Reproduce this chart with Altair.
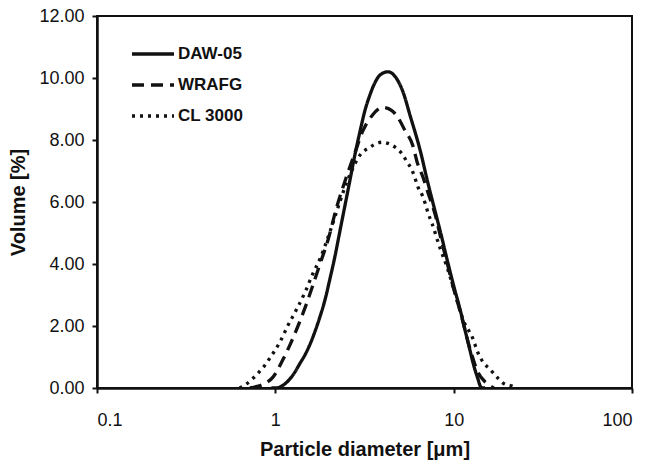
import altair as alt
import pandas as pd

series_names = ["DAW-05", "WRAFG", "CL 3000"]

daw_x = [0.95, 1.0, 1.06, 1.13, 1.21, 1.29, 1.37, 1.47, 1.57, 1.67, 1.78, 1.9, 2.02, 2.16, 2.3,
         2.45, 2.62, 2.8, 2.99, 3.18, 3.39, 3.62, 3.87, 4.29, 4.69, 5.2, 5.69, 6.5, 7.18, 7.87,
         8.5, 9.18, 10.0, 10.9, 11.6, 12.3, 13.0, 13.7, 14.1, 14.4, 15.0]
daw_y = [0, 0, 0.03, 0.13, 0.3, 0.52, 0.78, 1.08, 1.43, 1.83, 2.3, 2.85, 3.5, 4.25, 5.05,
         5.85, 6.7, 7.55, 8.3, 8.95, 9.45, 9.85, 10.1, 10.2, 10.05, 9.55, 8.8, 7.65, 6.6, 5.7,
         4.95, 4.15, 3.3, 2.5, 1.85, 1.25, 0.7, 0.28, 0.06, 0, 0]

wrafg_x = [0.72, 0.79, 0.88, 0.97, 1.10, 1.21, 1.34, 1.47, 1.62, 1.78, 1.98, 2.2, 2.5, 2.8, 3.1,
           3.5, 4.0, 4.5, 4.9, 5.34, 5.92, 6.23, 6.73, 7.18, 7.87, 8.5, 9.18, 10.0, 10.9, 12.3,
           13.7, 15.0, 16.0, 16.8]
wrafg_y = [0, 0.05, 0.15, 0.35, 0.9, 1.4, 2.0, 2.6, 3.3, 4.0, 4.8, 5.8, 6.8, 7.6, 8.3,
           8.8, 9.05, 8.95, 8.7, 8.3, 7.8, 7.3, 6.8, 6.3, 5.6, 4.8, 4.05, 3.2, 2.45, 1.3,
           0.5, 0.2, 0.07, 0]

cl_x = [0.63, 0.676, 0.74, 0.80, 0.87, 0.933, 1.06, 1.18, 1.32, 1.47, 1.63, 1.80, 1.95, 2.11,
        2.3, 2.5, 2.7, 2.99, 3.40, 3.72, 4.0, 4.23, 4.69, 5.14, 5.48, 5.84, 6.07, 6.31, 6.65,
        6.91, 7.18, 7.57, 8.4, 9.18, 10.0, 11.3, 12.8, 13.7, 14.6, 16.0, 17.5, 18.9, 21.3, 22.5]
cl_y = [0, 0.1, 0.28, 0.48, 0.72, 0.97, 1.48, 2.03, 2.55, 3.1, 3.71, 4.23, 4.77, 5.35,
        6.0, 6.6, 7.05, 7.52, 7.77, 7.9, 7.93, 7.9, 7.77, 7.55, 7.29, 7.03, 6.77, 6.48, 6.23,
        5.97, 5.65, 5.3, 4.5, 3.9, 3.2, 2.2, 1.6, 1.13, 0.84, 0.6, 0.35, 0.16, 0.06, 0]

x_ticks = [0.1, 1, 10, 100]
y_ticks = [0, 2, 4, 6, 8, 10, 12]

rows = []
for name, xs, ys in zip(series_names, [daw_x, wrafg_x, cl_x], [daw_y, wrafg_y, cl_y]):
    for xv, yv in zip(xs, ys):
        rows.append({"series": name, "d": xv, "v": yv})
df = pd.DataFrame(rows)

chart = alt.Chart(df).mark_line(color="#111", strokeWidth=3.3, clip=True,
                                interpolate="monotone").encode(
    x=alt.X("d:Q",
            scale=alt.Scale(type="log", domain=[0.1, 100]),
            axis=alt.Axis(values=x_ticks, format="~g", title="Particle diameter [μm]",
                          labelPadding=18, titlePadding=10)),
    y=alt.Y("v:Q",
            scale=alt.Scale(domain=[0, 12]),
            axis=alt.Axis(values=y_ticks, format=".2f", title="Volume [%]",
                          labelPadding=8, titlePadding=10)),
    strokeDash=alt.StrokeDash(
        "series:N",
        scale=alt.Scale(domain=series_names, range=[[1, 0], [12, 7], [3, 5]]),
        legend=alt.Legend(title=None, orient="none", legendX=33, legendY=15,
                          symbolType="stroke", symbolSize=1764, symbolStrokeWidth=3.3,
                          symbolStrokeColor="#111", labelFontSize=17, labelFontWeight="bold",
                          labelFont="Liberation Sans", labelColor="#111", labelOffset=2,
                          rowPadding=-1)),
).properties(
    width=535,
    height=372,
    autosize=alt.AutoSizeParams(type="none"),
    padding={"left": 97, "top": 16, "right": 15, "bottom": 75},
).configure_view(
    stroke="#111", strokeWidth=2
).configure_axis(
    grid=False,
    domainColor="#111", domainWidth=2.5,
    tickColor="#111", tickWidth=2, tickSize=5,
    labelFont="Liberation Sans", labelFontSize=18, labelColor="#111",
    titleFont="Liberation Sans", titleFontSize=20, titleFontWeight="bold", titleColor="#111",
)

chart.save("out.html", embed_options={"renderer": "svg", "actions": False})
